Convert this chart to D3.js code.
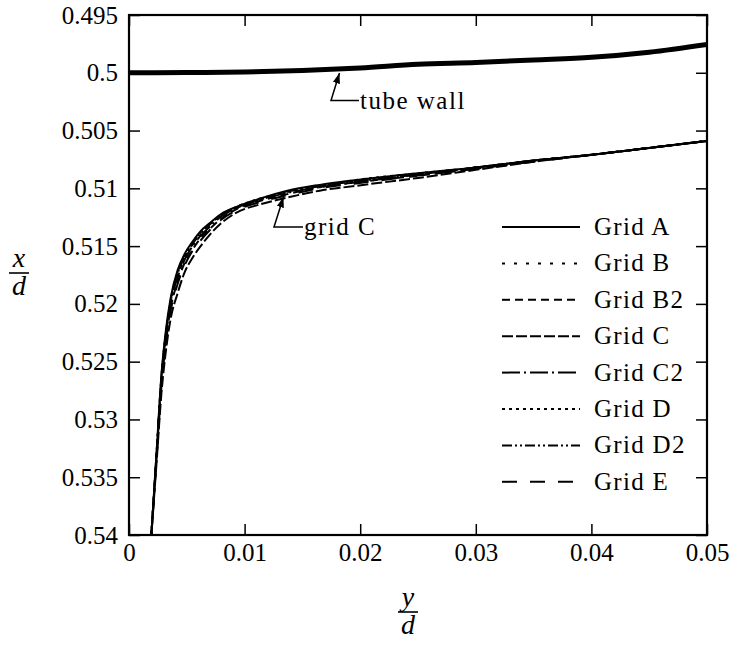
<!DOCTYPE html>
<html><head><meta charset="utf-8">
<script src="https://cdn.jsdelivr.net/npm/d3@7"></script>
</head><body style="margin:0">
<svg id="fig" width="743" height="645"></svg>
<script>
// ---- data ----
const yd = [0.0019,0.0024,0.0028,0.0032,0.0036,0.0042,0.0048,0.0055,0.0062,0.0070,0.0080,0.0093,0.0113,0.0137,0.0165,0.0195,0.0250,0.0300,0.0350,0.0400,0.0450,0.0500];
const gridA  = [0.5405,0.5326,0.5262,0.5222,0.5195,0.5171,0.5157,0.5146,0.5137,0.5130,0.5122,0.5116,0.5109,0.5102,0.5097,0.5093,0.5087,0.5082,0.5076,0.5071,0.5065,0.5059];
const gridB  = [0.5405,0.5328,0.5266,0.5226,0.5199,0.5176,0.5161,0.5149,0.5140,0.5132,0.5124,0.5117,0.5110,0.5103,0.5098,0.5094,0.5088,0.5082,0.5076,0.5071,0.5065,0.5059];
const gridB2 = [0.5405,0.5330,0.5270,0.5231,0.5204,0.5181,0.5165,0.5153,0.5143,0.5135,0.5126,0.5118,0.5111,0.5105,0.5099,0.5095,0.5089,0.5083,0.5076,0.5071,0.5065,0.5059];
const gridC  = [0.5405,0.5335,0.5278,0.5240,0.5213,0.5191,0.5173,0.5160,0.5150,0.5140,0.5130,0.5121,0.5114,0.5108,0.5102,0.5098,0.5091,0.5084,0.5077,0.5071,0.5065,0.5059];
const gridC2 = [0.5405,0.5329,0.5267,0.5227,0.5200,0.5177,0.5162,0.5150,0.5141,0.5133,0.5124,0.5117,0.5110,0.5104,0.5099,0.5095,0.5088,0.5082,0.5076,0.5071,0.5065,0.5059];
const gridD  = [0.5405,0.5327,0.5264,0.5224,0.5197,0.5173,0.5159,0.5147,0.5138,0.5131,0.5123,0.5116,0.5109,0.5103,0.5098,0.5093,0.5087,0.5082,0.5076,0.5071,0.5065,0.5059];
const gridD2 = [0.5405,0.5327,0.5264,0.5225,0.5198,0.5174,0.5159,0.5148,0.5139,0.5131,0.5123,0.5117,0.5110,0.5103,0.5098,0.5094,0.5088,0.5082,0.5076,0.5071,0.5065,0.5059];
const gridE  = [0.5405,0.5331,0.5272,0.5233,0.5206,0.5183,0.5167,0.5154,0.5145,0.5136,0.5127,0.5119,0.5112,0.5106,0.5100,0.5096,0.5089,0.5083,0.5077,0.5071,0.5065,0.5059];
const seriesNames = ["Grid A","Grid B","Grid B2","Grid C","Grid C2","Grid D","Grid D2","Grid E"];
const seriesDash = ["none","3,9","8,5","11,3","18,4,2,4","3,4","10,3,2,3,2,3","15,13"];
const wallYd = [0,0.005,0.01,0.015,0.02,0.025,0.03,0.035,0.04,0.045,0.05];
const wallXd = [0.5000,0.49998,0.49993,0.49980,0.49958,0.49927,0.49911,0.49889,0.49866,0.49822,0.49755];
const xTicks = [0,0.01,0.02,0.03,0.04,0.05];
const yTicks = [0.495,0.5,0.505,0.51,0.515,0.52,0.525,0.53,0.535,0.54];

// ---- chart ----
const FONT = '"Liberation Serif"';
const svg = d3.select("#fig").attr("font-family","Liberation Serif");
const L=129,R=707,T=15,B=535;
const x = d3.scaleLinear().domain([0,0.05]).range([L,R]);
const y = d3.scaleLinear().domain([0.495,0.54]).range([T,B]);
const fmt = d3.format(".3~f");

svg.append("defs").append("clipPath").attr("id","clip")
  .append("rect").attr("x",L).attr("y",T).attr("width",R-L).attr("height",B-T);

const axStyle = g => {
  g.attr("font-family","Liberation Serif").attr("font-size",25);
  g.select(".domain").remove();
  g.selectAll("line").attr("stroke","#000").attr("stroke-width",1.5);
  g.selectAll("text").style("font-family",FONT).style("font-size","25px").attr("fill","#000");
};
svg.append("g").attr("transform",`translate(0,${B})`).call(d3.axisBottom(x).tickValues(xTicks).tickFormat(fmt).tickSize(-11).tickSizeOuter(0).tickPadding(8)).call(axStyle);
svg.append("g").attr("transform",`translate(0,${T})`).call(d3.axisTop(x).tickValues(xTicks).tickFormat("").tickSize(-11).tickSizeOuter(0)).call(axStyle);
svg.append("g").attr("transform",`translate(${L},0)`).call(d3.axisLeft(y).tickValues(yTicks).tickFormat(fmt).tickSize(-11).tickSizeOuter(0).tickPadding(11)).call(axStyle);
svg.append("g").attr("transform",`translate(${R},0)`).call(d3.axisRight(y).tickValues(yTicks).tickFormat("").tickSize(-11).tickSizeOuter(0)).call(axStyle);

const plot = svg.append("g").attr("clip-path","url(#clip)");
const line = d3.line().x(d=>x(d[0])).y(d=>y(d[1])).curve(d3.curveMonotoneX);
plot.append("path").datum(wallYd.map((v,i)=>[v,wallXd[i]])).attr("d",line)
  .attr("fill","none").attr("stroke","#000").attr("stroke-width",5);
const allSeries = [gridA,gridB,gridB2,gridC,gridC2,gridD,gridD2,gridE];
allSeries.forEach((s,k)=>{
  plot.append("path").datum(yd.map((v,i)=>[v,s[i]])).attr("d",line)
    .attr("fill","none").attr("stroke","#000").attr("stroke-width",2)
    .attr("stroke-dasharray",seriesDash[k]);
});

svg.append("rect").attr("x",L).attr("y",T).attr("width",R-L).attr("height",B-T)
  .attr("fill","none").attr("stroke","#000").attr("stroke-width",2.2);

function txt(xx,yy,s,size,extra){
  const t = svg.append("text").attr("x",xx).attr("y",yy).attr("fill","#000")
    .style("font-family",FONT).style("font-size",size+"px").text(s);
  if(extra) extra(t);
  return t;
}
// legend
seriesNames.forEach((n,k)=>{
  const yy = 227 + k*36.4;
  svg.append("line").attr("x1",502).attr("x2",580).attr("y1",yy).attr("y2",yy)
    .attr("stroke","#000").attr("stroke-width",2).attr("stroke-dasharray",seriesDash[k]);
  txt(594,yy+8,n,25,t=>t.style("letter-spacing","1.3px"));
});

// annotations
svg.append("defs").append("marker").attr("id","arr").attr("viewBox","0 0 10 10").attr("refX",10).attr("refY",5)
  .attr("markerWidth",7).attr("markerHeight",7).attr("orient","auto-start-reverse")
  .append("path").attr("d","M0,1.5L10,5L0,8.5z").attr("fill","#000");
function note(x0,y0,xs,ys,xt,yt,s){
  svg.append("path").attr("d",`M${xs},${ys}L${x0},${y0}L${xt},${yt}`).attr("fill","none")
    .attr("stroke","#000").attr("stroke-width",1.5).attr("marker-end","url(#arr)");
  txt(xs+1,ys+8,s,25,t=>t.style("letter-spacing","1.5px"));
}
note(331,100.5,359,100.5,339.5,73,"tube wall");
note(274,227,303,227,283.5,197,"grid C");

// axis labels as fractions
function frac(cx,cy,num){
  txt(cx,cy-6,num,28,t=>t.attr("text-anchor","middle").style("font-style","italic"));
  svg.append("line").attr("x1",cx-10).attr("x2",cx+10).attr("y1",cy).attr("y2",cy).attr("stroke","#000").attr("stroke-width",1.6);
  txt(cx,cy+22,"d",28,t=>t.attr("text-anchor","middle").style("font-style","italic"));
}
frac(19,273,"x");
frac(408,612,"y");
</script>
</body></html>
